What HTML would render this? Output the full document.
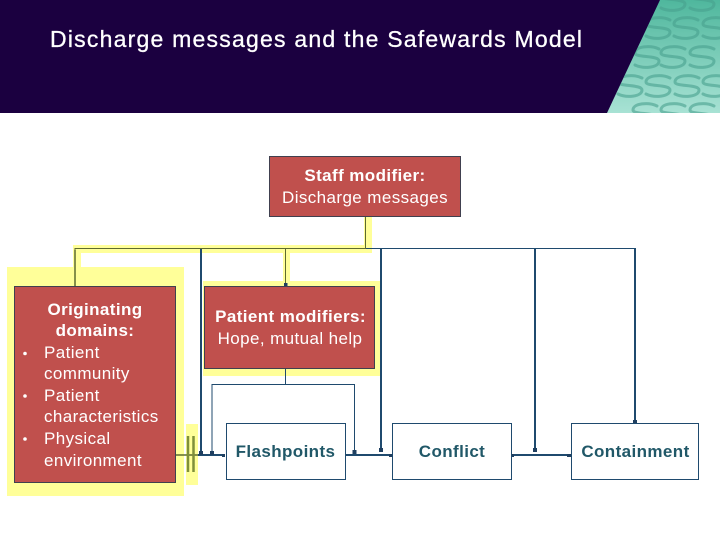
<!DOCTYPE html>
<html><head><meta charset="utf-8"><style>
html,body{margin:0;padding:0;background:#fff}
svg{display:block}
text{font-family:"Liberation Sans",sans-serif}
</style></head><body>
<svg width="720" height="540" viewBox="0 0 720 540" xmlns="http://www.w3.org/2000/svg">
<defs>
<linearGradient id="g" x1="0" y1="0" x2="0" y2="1"><stop offset="0" stop-color="#4fb79d"/><stop offset="1" stop-color="#a8e2d4"/></linearGradient>
<g id="s" fill="none" stroke="#48a08e" stroke-width="3" stroke-linecap="round" opacity=".6"><path d="M12 -8C4 -12 -12 -11 -12 -4C-12 1 12 -2 12 4C12 11 -4 12 -12 8"/></g>
</defs>
<rect width="720" height="540" fill="#fff"/>
<rect width="720" height="113" fill="#1b0040"/>
<polygon points="660,0 720,0 720,113 607,113" fill="url(#g)"/>
<clipPath id="c"><polygon points="660,0 720,0 720,113 607,113"/></clipPath>
<g clip-path="url(#c)">
<use href="#s" x="673" y="0"/><use href="#s" x="702" y="0"/>
<use href="#s" x="658" y="28"/><use href="#s" x="686" y="28"/><use href="#s" x="715" y="28"/>
<use href="#s" x="647" y="57"/><use href="#s" x="673" y="57"/><use href="#s" x="702" y="57"/>
<use href="#s" x="630" y="86"/><use href="#s" x="658" y="86"/><use href="#s" x="687" y="86"/><use href="#s" x="715" y="86"/>
<use href="#s" x="645" y="114"/><use href="#s" x="673" y="114"/><use href="#s" x="702" y="114"/>
</g>
<text x="50" y="47" font-size="23" fill="#fff" stroke="#fff" stroke-width=".3" textLength="532" lengthAdjust="spacing">Discharge messages and the Safewards Model</text>

<!-- yellow highlights -->
<g fill="#ffff99">
<rect x="7" y="267" width="177" height="229"/>
<rect x="203" y="281" width="177" height="95"/>
<rect x="186" y="424" width="12" height="61"/>
<rect x="73" y="245" width="299" height="8"/>
<rect x="364" y="216" width="8" height="32"/>
<rect x="73" y="245" width="8" height="24"/>
<rect x="283" y="248" width="7" height="34"/>
</g>

<!-- connectors -->
<g fill="none" stroke="#1f4a6e">
<path d="M365 248.500H635" stroke-width="1"/>
<path d="M201 248V453" stroke-width="2"/>
<path d="M381 248V450" stroke-width="2"/>
<path d="M535 248V450" stroke-width="2"/>
<path d="M635 248V421" stroke-width="2"/>
<path d="M212 453V384.500H354.500V452" stroke-width="1"/>
<path d="M285.500 368V384.500" stroke-width="1"/>
<path d="M198 455H224" stroke-width="2"/>
<path d="M345 455H392" stroke-width="2"/>
<path d="M511 455H571" stroke-width="2"/>
</g>
<g fill="none" stroke="#5d6a2f">
<path d="M75 286V248.500H365.500V216" stroke-width="1"/>
<path d="M75 286V250" stroke-width="1.500"/>
<path d="M285.500 248V283" stroke-width="1"/>
<path d="M175 455H198" stroke-width="1.500"/>
<path d="M188 436V472M193.500 436V472" stroke-width="2.500" stroke="#7f8f3a"/>
</g>
<g fill="#1f3f60">
<rect x="199" y="451" width="4" height="4"/><rect x="210" y="451" width="4" height="4"/>
<rect x="222" y="454" width="3" height="3"/>
<rect x="352.500" y="450" width="4" height="4"/><rect x="379" y="448" width="4" height="4"/>
<rect x="389" y="454" width="3" height="3"/><rect x="511" y="454" width="3" height="3"/>
<rect x="533" y="448" width="4" height="4"/><rect x="567" y="454" width="4" height="3"/>
<rect x="633" y="420" width="4" height="3"/><rect x="284" y="283" width="3.500" height="3.500"/>
</g>

<!-- boxes -->
<g fill="#c0504d" stroke="#40404f" stroke-width="1">
<rect x="269.500" y="156.500" width="191" height="60"/>
<rect x="14.500" y="286.500" width="161" height="196"/>
<rect x="204.500" y="286.500" width="170" height="82"/>
</g>
<g fill="#fff" stroke="#1f4a6e" stroke-width="1">
<rect x="226.500" y="423.500" width="119" height="56"/>
<rect x="392.500" y="423.500" width="119" height="56"/>
<rect x="571.500" y="423.500" width="127" height="56"/>
</g>

<!-- text -->
<g fill="#fff" font-size="17" letter-spacing=".4">
<text x="365" y="181" text-anchor="middle" font-weight="bold">Staff modifier:</text>
<text x="365" y="203" text-anchor="middle">Discharge messages</text>
<text x="95" y="315" text-anchor="middle" font-weight="bold">Originating</text>
<text x="95" y="336" text-anchor="middle" font-weight="bold">domains:</text>
<text x="44" y="358">Patient</text>
<text x="44" y="379">community</text>
<text x="44" y="401">Patient</text>
<text x="44" y="422">characteristics</text>
<text x="44" y="444">Physical</text>
<text x="44" y="466">environment</text>
<circle cx="25" cy="353.500" r="1.800"/>
<circle cx="25" cy="396" r="1.800"/>
<circle cx="25" cy="439" r="1.800"/>
<text x="290.500" y="322" text-anchor="middle" font-weight="bold">Patient modifiers:</text>
<text x="290" y="344" text-anchor="middle">Hope, mutual help</text>
</g>
<g fill="#215868" font-size="17" letter-spacing=".4" font-weight="bold" text-anchor="middle">
<text x="285.500" y="457">Flashpoints</text>
<text x="452" y="457">Conflict</text>
<text x="635.500" y="457">Containment</text>
</g>
</svg>
</body></html>
